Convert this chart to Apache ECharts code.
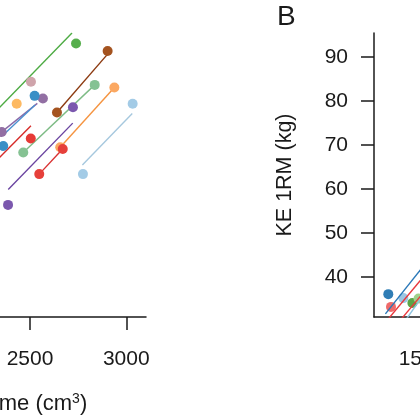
<!DOCTYPE html>
<html>
<head>
<meta charset="utf-8">
<script src="https://cdn.jsdelivr.net/npm/echarts@6/dist/echarts.min.js"></script>
<style>
html,body{margin:0;padding:0;background:#fff;}
#c{width:420px;height:420px;}
</style>
</head>
<body>
<div id="c"></div>
<script>
// ---- Panel A (left, only its right part is visible) ----
const aPreX  = [null, 2640, 2465, 2657, 2775, 2548, 2386, null, 2353, 2361, null, null];
const aPreY  = [null, 77.4, 68.3, 69.5, 63.4, 63.4, 56.4, null, 73.0, 69.8, null, null];
const aPostX = [2739, 2903, 2836, 2938, 3033, 2670, 2723, 2504, 2567, 2524, 2505, 2431];
const aPostY = [93.1, 91.4, 83.7, 83.1, 79.4, 69.1, 78.6, 71.5, 80.6, 81.2, 84.4, 79.4];
const aFitX1 = [2290, 2640, 2465, 2657, 2772, 2548, 2387, 2290, 2353, 2361, null, null];
const aFitY1 = [76.2, 77.4, 68.3, 69.5, 65.5, 63.4, 59.9, 64.9, 73.0, 72.3, null, null];
const aFitX2 = [2718, 2903, 2836, 2938, 3031, 2673, 2722, 2505, 2538, 2526, null, null];
const aFitY2 = [95.5, 90.7, 83.7, 83.1, 77.2, 69.3, 75.0, 74.4, 79.5, 79.1, null, null];
const aXTicks = [1500, 2000, 2500, 3000];

// ---- Panel B (right, only its left part is visible) ----
const bPointX = [1325, 1339, 1403, 1450, 1482];
const bPointY = [36.1, 33.2, 35.2, 34.1, 35.1];
const bFitX1 = [1310, 1320, 1390, 1415];
const bFitY1 = [31.6, 30.2, 30.3, 30.2];
const bFitX2 = [1520, 1520, 1520, 1520];
const bFitY2 = [43.2, 40.7, 37.1, 36.7];
const bXTicks = [1500, 2000, 2500, 3000];
const yTicks = [40, 50, 60, 70, 80, 90];

// ---- styles ----
const aPointColors = ['#56ae4c','#a4531f','#85c293','#fba862','#a3cbe6','#e6403a','#7b58ae','#e63a36','#926fa3','#3a8fc6','#cfa4ab','#fdb962'];
const aLineColors  = ['#4dab43','#8c3a10','#7dbb85','#f59440','#a6c8de','#d93030','#6a44a0','#d62a28','#8a6aa8','#4a90d0',null,null];
const bPointColors = ['#2f7db5','#ef6a6a','#9cc6e3','#5aa546','#9fd08a'];
const bLineColors  = ['#2a78b8','#e8383d','#e8383d','#8ec3e0'];

const FONT = "'Liberation Sans', Arial, sans-serif";
const INK = '#1a1a1a';
const scale = 500 / 96.3; // units per px

const series = [];
aFitX1.forEach((x1, i) => {
  if (x1 == null) return;
  series.push({type:'line', xAxisIndex:0, yAxisIndex:0, symbol:'none', silent:true, z:1,
    lineStyle:{color:aLineColors[i], width:1.4},
    data:[[x1, aFitY1[i]], [aFitX2[i], aFitY2[i]]]});
});
aPostX.forEach((x, i) => {
  const pts = [];
  if (aPreX[i] != null) pts.push([aPreX[i], aPreY[i]]);
  pts.push([x, aPostY[i]]);
  series.push({type:'scatter', xAxisIndex:0, yAxisIndex:0, symbolSize:10, z:2,
    itemStyle:{color:aPointColors[i], opacity:1}, data:pts});
});
bPointX.forEach((x, i) => {
  series.push({type:'scatter', xAxisIndex:1, yAxisIndex:1, symbolSize:10, z:2,
    itemStyle:{color:bPointColors[i], opacity:1}, data:[[x, bPointY[i]]]});
});
bFitX1.forEach((x1, i) => {
  series.push({type:'line', xAxisIndex:1, yAxisIndex:1, symbol:'none', silent:true, z:3,
    lineStyle:{color:bLineColors[i], width:1.4},
    data:[[x1, bFitY1[i]], [bFitX2[i], bFitY2[i]]]});
});

const axisLine = {show:true, onZero:false, lineStyle:{color:INK, width:1.5}};
const tick = (vals) => ({show:true, length:13, inside:false, customValues:vals, lineStyle:{color:INK, width:1.5}});
const label = (vals, margin) => ({show:true, customValues:vals, fontSize:21, color:INK, fontFamily:FONT, margin:margin,
  formatter:(v) => String(v)});

const aLeft = -219;
const aWidth = 146 - aLeft;
const aMin = 2500 - (30 - aLeft) * scale;
const bMin = 1500 - 48 * scale;

const option = {
  animation:false,
  backgroundColor:'#fff',
  title:{text:'B', left:277, top:3, padding:0, textStyle:{fontSize:28, fontWeight:'normal', color:INK, fontFamily:FONT}},
  grid:[
    {left:aLeft, top:33, width:aWidth, height:284, outerBoundsMode:'none', containLabel:false},
    {left:374, top:33, width:340, height:284, outerBoundsMode:'none', containLabel:false}
  ],
  xAxis:[
    {type:'value', gridIndex:0, min:aMin, max:aMin + aWidth*scale, splitLine:{show:false},
     axisLine:axisLine, axisTick:tick(aXTicks), axisLabel:label(aXTicks, 32),
     name:'Quadriceps volume (cm{sup|3})', nameLocation:'middle', nameGap:75,
     nameTextStyle:{fontSize:22, color:INK, fontFamily:FONT,
       rich:{sup:{fontSize:14, color:INK, fontFamily:FONT, verticalAlign:'top', padding:[0,0,10,0]}}}},
    {type:'value', gridIndex:1, min:bMin, max:bMin + 340*scale, splitLine:{show:false},
     axisLine:axisLine, axisTick:tick(bXTicks), axisLabel:label(bXTicks, 32)}
  ],
  yAxis:[
    {type:'value', gridIndex:0, min:30.9, max:95.5, show:false, splitLine:{show:false}},
    {type:'value', gridIndex:1, min:30.9, max:95.5, splitLine:{show:false},
     axisLine:axisLine, axisTick:tick(yTicks), axisLabel:label(yTicks, 26),
     name:'KE 1RM (kg)', nameLocation:'middle', nameGap:78, nameRotate:90,
     nameTextStyle:{fontSize:21.5, color:INK, fontFamily:FONT}}
  ],
  series:series
};
const chart = echarts.init(document.getElementById('c'), null, {renderer:'canvas'});
chart.setOption(option);
</script>
</body>
</html>
